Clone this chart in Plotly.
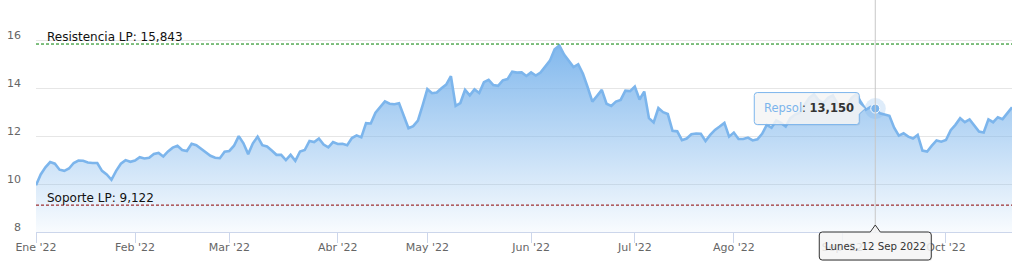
import pandas as pd
import plotly.graph_objects as go

# ---------------- data ----------------
MONTH_ABBR = ["Ene", "Feb", "Mar", "Abr", "May", "Jun", "Jul", "Ago", "Sep", "Oct", "Nov", "Dic"]
DAY_NAMES = ["Lunes", "Martes", "Miércoles", "Jueves", "Viernes", "Sábado", "Domingo"]

SERIES_NAME = "Repsol"
RESISTANCE_LP = 15.843
SUPPORT_LP = 9.122
HOVER_DATE = "2022-09-12"

market_holidays = ["2022-04-15", "2022-04-18"]
trading_days = pd.bdate_range("2022-01-03", "2022-10-21", freq="C", holidays=market_holidays)

repsol_close = [
    # Ene
    9.95, 10.40, 10.70, 10.92, 10.85, 10.60, 10.55, 10.65, 10.88, 10.98,
    10.97, 10.90, 10.88, 10.88, 10.55, 10.40, 10.18, 10.55, 10.85, 11.00,
    10.93,
    # Feb
    10.98, 11.12, 11.07, 11.10, 11.26, 11.30, 11.15, 11.36, 11.52, 11.60,
    11.42, 11.38, 11.68, 11.62, 11.46, 11.30, 11.18, 11.10, 11.08, 11.35,
    # Mar
    11.38, 11.60, 12.00, 11.70, 11.25, 11.70, 11.98, 11.62, 11.57, 11.40,
    11.22, 11.22, 11.00, 11.22, 10.97, 11.36, 11.42, 11.80, 11.75, 11.90,
    11.65, 11.53, 11.75,
    # Abr
    11.67, 11.68, 11.62, 11.92, 12.03, 11.95, 12.54, 12.53, 12.98, 13.23,
    13.45, 13.35, 13.33, 13.37, 12.85, 12.33, 12.42, 12.65, 13.28,
    # May
    13.96, 13.79, 13.82, 14.00, 14.15, 14.50, 13.26, 13.38, 13.93, 13.70,
    13.95, 13.80, 14.25, 14.35, 14.13, 14.10, 14.33, 14.38, 14.69, 14.65,
    14.66, 14.51,
    # Jun
    14.66, 14.53, 14.65, 14.90, 15.15, 15.62, 15.78, 15.40, 15.14, 14.88,
    15.00, 14.60, 14.04, 13.44, 13.68, 13.93, 13.35, 13.26, 13.44, 13.51,
    13.90, 13.88,
    # Jul
    14.07, 13.53, 13.86, 12.75, 12.57, 13.17, 13.00, 12.92, 12.22, 12.20,
    11.83, 11.90, 12.08, 12.11, 12.10, 11.80, 12.05, 12.26, 12.40, 12.55,
    11.98,
    # Ago
    12.15, 11.88, 11.88, 11.94, 11.82, 11.87, 12.10, 12.47, 12.35, 12.65,
    12.55, 12.40, 12.75, 12.90, 12.98, 13.30, 13.60, 13.75, 13.50, 13.38,
    13.60, 13.70, 13.35,
    # Sep
    13.12, 13.30, 13.60, 13.75, 13.40, 13.10, 13.22, 13.15, 12.95, 12.89,
    12.85, 12.35, 12.02, 12.12, 11.98, 11.90, 12.05, 11.40, 11.36, 11.60,
    11.82, 11.77,
    # Oct
    11.84, 12.25, 12.47, 12.75, 12.58, 12.70, 12.45, 12.19, 12.15, 12.70,
    12.58, 12.79, 12.71, 12.98, 13.20,
]

x_cats = [d.strftime("%Y-%m-%d") for d in trading_days]
assert len(x_cats) == len(repsol_close)

# first trading day of every month -> tick
tick_vals, tick_text = [], []
seen = set()
for d in trading_days:
    key = (d.year, d.month)
    if key not in seen:
        seen.add(key)
        tick_vals.append(d.strftime("%Y-%m-%d"))
        tick_text.append(f"{MONTH_ABBR[d.month - 1]} '{d.strftime('%y')}")

hover_idx = x_cats.index(HOVER_DATE)
hover_val = repsol_close[hover_idx]
hover_dt = trading_days[hover_idx]


def es_num(v):
    return f"{v:.3f}".replace(".", ",")


hover_date_text = f"{DAY_NAMES[hover_dt.weekday()]}, {hover_dt.day} {MONTH_ABBR[hover_dt.month - 1]} {hover_dt.year}"

# ---------------- style ----------------
FONT = "DejaVu Sans"
LINE_COLOR = "#7cb5ec"
Y_MIN, Y_MAX = 8, 17.68

fig = go.Figure()

fig.add_trace(go.Scatter(
    x=x_cats, y=repsol_close, mode="lines", name=SERIES_NAME,
    line=dict(color=LINE_COLOR, width=2.6),
    fill="tozeroy",
    fillgradient=dict(
        type="vertical",
        colorscale=[[0, "rgba(124,181,236,0.05)"], [1, "rgba(124,181,236,0.95)"]],
        start=Y_MIN, stop=max(repsol_close),
    ),
    hoverinfo="skip", showlegend=False,
))

# hover halo + marker
fig.add_trace(go.Scatter(
    x=[HOVER_DATE], y=[hover_val], mode="markers",
    marker=dict(size=21, color="rgba(124,181,236,0.25)", line=dict(width=0)),
    hoverinfo="skip", showlegend=False,
))
fig.add_trace(go.Scatter(
    x=[HOVER_DATE], y=[hover_val], mode="markers",
    marker=dict(size=9, color=LINE_COLOR, line=dict(color="white", width=1)),
    hoverinfo="skip", showlegend=False,
))

shapes = []
# plot lines
shapes.append(dict(type="line", xref="paper", x0=0, x1=1, yref="y", y0=RESISTANCE_LP, y1=RESISTANCE_LP,
                   line=dict(color="#008000", width=1, dash="3px,2px"), layer="above"))
shapes.append(dict(type="line", xref="paper", x0=0, x1=1, yref="y", y0=SUPPORT_LP, y1=SUPPORT_LP,
                   line=dict(color="#8b0000", width=1, dash="3px,2px"), layer="above"))
# crosshair
shapes.append(dict(type="line", xref="x", x0=HOVER_DATE, x1=HOVER_DATE, yref="paper", y0=0, y1=1,
                   line=dict(color="#c8c8c8", width=1), layer="above"))


def callout_right(l, r, t, b, tip, half, rad):
    return (f"M {l+rad},{t} L {r-rad},{t} Q {r},{t} {r},{t-rad} L {r},{half} L {tip},0 "
            f"L {r},{-half} L {r},{b+rad} Q {r},{b} {r-rad},{b} L {l+rad},{b} Q {l},{b} {l},{b+rad} "
            f"L {l},{t-rad} Q {l},{t} {l+rad},{t} Z")


def callout_top(l, r, t, b, tip, half, rad):
    return (f"M {l+rad},{t} L {-half},{t} L 0,{tip} L {half},{t} L {r-rad},{t} Q {r},{t} {r},{t-rad} "
            f"L {r},{b+rad} Q {r},{b} {r-rad},{b} L {l+rad},{b} Q {l},{b} {l},{b+rad} "
            f"L {l},{t-rad} Q {l},{t} {l+rad},{t} Z")


# value tooltip (anchored at hovered point)
shapes.append(dict(type="path", xref="x", yref="y", xsizemode="pixel", ysizemode="pixel",
                   xanchor=HOVER_DATE, yanchor=hover_val,
                   path=callout_right(-120, -15, 15, -17, -9, 5.5, 3),
                   fillcolor="rgba(0,0,0,0.07)", line=dict(width=0), layer="above"))
shapes.append(dict(type="path", xref="x", yref="y", xsizemode="pixel", ysizemode="pixel",
                   xanchor=HOVER_DATE, yanchor=hover_val,
                   path=callout_right(-121, -16, 16, -16, -10, 5.5, 3),
                   fillcolor="rgba(247,247,247,0.85)", line=dict(color=LINE_COLOR, width=1), layer="above"))

# date tooltip (anchored at axis bottom under crosshair)
shapes.append(dict(type="path", xref="x", yref="paper", xsizemode="pixel", ysizemode="pixel",
                   xanchor=HOVER_DATE, yanchor=0,
                   path=callout_top(-55, 57, -1, -29, 6, 5, 3),
                   fillcolor="rgba(0,0,0,0.07)", line=dict(width=0), layer="above"))
shapes.append(dict(type="path", xref="x", yref="paper", xsizemode="pixel", ysizemode="pixel",
                   xanchor=HOVER_DATE, yanchor=0,
                   path=callout_top(-56, 56, 0, -28, 7, 5, 3),
                   fillcolor="rgba(247,247,247,0.85)", line=dict(color="#333333", width=1), layer="above"))

annotations = [
    dict(text=f"Resistencia LP: {es_num(RESISTANCE_LP)}", xref="paper", x=0, xanchor="left", xshift=9,
         yref="y", y=RESISTANCE_LP, yanchor="bottom", yshift=-2, showarrow=False,
         font=dict(family=FONT, size=12, color="#111111")),
    dict(text=f"Soporte LP: {es_num(SUPPORT_LP)}", xref="paper", x=0, xanchor="left", xshift=9,
         yref="y", y=SUPPORT_LP, yanchor="bottom", yshift=-2, showarrow=False,
         font=dict(family=FONT, size=12, color="#111111")),
    dict(text=f"<span style='color:{LINE_COLOR}'>{SERIES_NAME}</span>: <b>{es_num(hover_val)}</b>",
         xref="x", x=HOVER_DATE, xanchor="left", xshift=-113,
         yref="y", y=hover_val, yanchor="middle", yshift=1, showarrow=False,
         font=dict(family=FONT, size=11.5, color="#333333")),
    dict(text=hover_date_text, xref="x", x=HOVER_DATE, xanchor="center",
         yref="paper", y=0, yanchor="middle", yshift=-14.5, showarrow=False,
         font=dict(family=FONT, size=10.2, color="#333333")),
]

fig.update_layout(
    width=1017, height=275,
    margin=dict(l=36, r=5, t=0, b=43, pad=0),
    paper_bgcolor="white", plot_bgcolor="white",
    font=dict(family=FONT, size=11, color="#666666"),
    showlegend=False,
    shapes=shapes, annotations=annotations,
    xaxis=dict(
        type="category", categoryorder="array", categoryarray=x_cats,
        range=[0, len(x_cats) - 1],
        tickmode="array", tickvals=tick_vals, ticktext=tick_text,
        ticks="outside", ticklen=10, tickwidth=1, tickcolor="#ccd6eb",
        showline=True, linecolor="#ccd6eb", linewidth=1,
        showgrid=False, zeroline=False,
        ticklabelstandoff=-5,
        tickfont=dict(family=FONT, size=11, color="#666666"),
    ),
    yaxis=dict(
        range=[Y_MIN, Y_MAX],
        tickmode="array", tickvals=[8, 10, 12, 14, 16],
        showgrid=True, gridcolor="#e6e6e6", gridwidth=1,
        zeroline=False, showline=False,
        ticks="", ticklabelstandoff=14, ticklabelshift=-5,
        tickfont=dict(family=FONT, size=11, color="#666666"),
    ),
)

fig.write_html("out.html")
